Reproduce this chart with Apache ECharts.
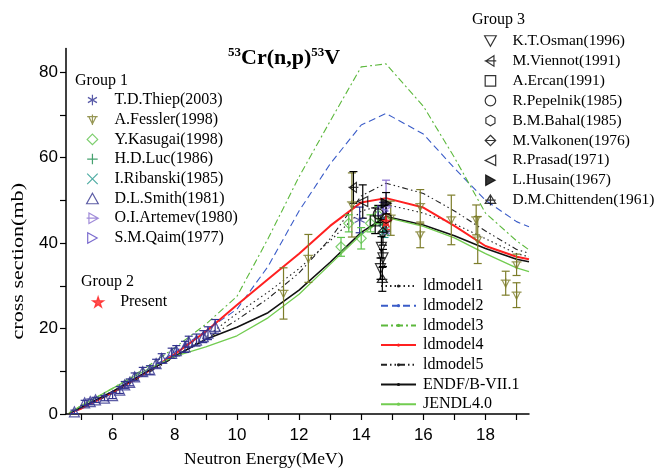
<!DOCTYPE html>
<html>
<head>
<meta charset="utf-8">
<script src="https://cdn.jsdelivr.net/npm/echarts@6/dist/echarts.min.js"></script>
<style>
html, body { margin: 0; padding: 0; background: #fff; }
#chart { width: 659px; height: 469px; }
</style>
</head>
<body>
<div id="chart"></div>
<script>
// model curves at these energies (MeV)
var energyGrid = [4.6, 5, 6, 7, 8, 9, 10, 11, 12, 13, 14, 14.8, 16, 17, 18, 19, 19.4]
var ldmodel1 = [0.2, 1.5, 5, 9.3, 13.5, 18, 23.5, 28.5, 34, 40.5, 47.5, 49, 47, 44.5, 41, 37.5, 36.8]
var ldmodel2 = [0.2, 1.5, 5, 9.5, 14.5, 19.5, 24.5, 34.5, 47.5, 58.5, 67.6, 70.3, 65.5, 57.5, 50, 45, 43.8]
var ldmodel3 = [0.2, 2, 6, 10.5, 15.5, 21, 27.5, 41, 55.5, 68.5, 81.2, 81.9, 72, 60, 47, 40.5, 38.4]
var ldmodel4 = [0.2, 1.3, 5, 9.3, 14, 19.3, 25.5, 31.5, 37.5, 44, 49.5, 50.5, 48.3, 44, 39.3, 36.8, 36.2]
var ldmodel5 = [0.2, 1.5, 4.8, 9, 13.3, 17.5, 22, 27, 33, 41, 51, 54, 51.6, 47.5, 42.8, 38.5, 37.6]
var endf = [0.2, 1.6, 5.3, 9.5, 13.5, 17.5, 20.3, 23.7, 29, 35.5, 42.5, 46.2, 44.2, 41.7, 38.7, 36.2, 35.6]
var jendl = [0.3, 2, 6, 10, 13.5, 15.7, 18.3, 22.5, 28, 35, 42, 46, 43.9, 41.2, 37.5, 34.2, 33.3]

// measurements: [energy, cross section, error]
var thiep = [[13.95, 45.4, 3]]
var fessler = [[11.5, 28.2, 6], [12.3, 36.4, 5.6], [13.7, 48.9, 7.5], [14.95, 45.8, 4], [15.9, 48.5, 4],
  [15.9, 41.9, 3], [16.9, 45.4, 5.8], [17.7, 45.4, 3.5], [17.75, 40.7, 5.5], [18.65, 30.6, 2.8],
  [19.0, 34.9, 2.5], [19.0, 27.8, 2.9]]
var kasugai = [[13.35, 39.1, 2.2], [13.6, 44.6, 2], [14.0, 41.1, 2.5], [14.3, 44.6, 2], [14.55, 46.5, 2]]
var luc = [[14.7, 44.2, 1.5]]
var ribanski = [[14.75, 42.8, 1.5]]
var smith = [[4.77, 0.5, 0.4], [5.1, 2.6, 0.6], [5.28, 2.9, 0.6], [5.45, 3.3, 0.6], [5.74, 3.7, 0.6],
  [6.0, 4.3, 0.7], [6.23, 5.6, 0.8], [6.39, 6.8, 0.8], [6.55, 7.4, 0.8], [6.71, 8.7, 0.9],
  [6.97, 9.9, 1], [7.2, 10.3, 1], [7.4, 11.8, 1], [7.58, 13, 1.1], [7.9, 14.2, 1.2],
  [8.05, 14.8, 1.2], [8.33, 15.7, 1.3], [8.45, 16.9, 1.3], [8.7, 17.3, 1.4], [8.92, 18.1, 1.4],
  [9.07, 18.9, 1.5], [9.3, 20.5, 1.6]]
var artemev = [[14.8, 48.5, 6.2]]
var qaim = [[14.7, 47.5, 2]]
var present = [[14.8, 45, 1.8]]
var osman = [[14.65, 39, 2.5], [14.7, 36.5, 2], [14.62, 34, 2.5]]
var viennot = [[13.75, 53, 3.7]]
var ercan = [[14.45, 45.2, 3]]
var pepelnik = [[14.55, 46.8, 2]]
var bahal = [[14.8, 45.8, 3]]
var valkonen = [[14.7, 42.5, 3]]
var prasad = [[14.05, 49.7, 3.9]]
var husain = [[14.8, 49.3, 2.5]]
var chittenden = [[14.68, 31.5, 2.8]]

var xTicks = [5, 6, 7, 8, 9, 10, 11, 12, 13, 14, 15, 16, 17, 18, 19]
var xLabels = [6, 8, 10, 12, 14, 16, 18]
var yTicks = [0, 10, 20, 30, 40, 50, 60, 70, 80]
var yLabels = [0, 20, 40, 60, 80]

var serif = 'Liberation Serif'
var sans = 'Liberation Sans'

var sym = {
  asterisk: 'path://M5,0L5,10M0.7,2.5L9.3,7.5M0.7,7.5L9.3,2.5',
  fessler: 'path://M1.5,2L8.5,2L5,9Z M0,2L10,2 M5,0L5,10',
  diamond: 'path://M5,0L10,5L5,10L0,5Z',
  plus: 'path://M5,0L5,10M0,5L10,5',
  cross: 'path://M0.5,0.5L9.5,9.5M0.5,9.5L9.5,0.5',
  triUp: 'path://M5,0.5L10,9.5L0,9.5Z',
  artemev: 'path://M2,0.5L10,5L2,9.5Z M0,5L10,5',
  triRight: 'path://M1,0L10,5L1,10Z',
  star: 'path://M5,0L6.2,3.6L10,3.6L6.9,5.8L8.1,9.5L5,7.3L1.9,9.5L3.1,5.8L0,3.6L3.8,3.6Z',
  triDown: 'path://M0,0.5L10,0.5L5,9.5Z',
  viennot: 'path://M8,0.5L1,5L8,9.5Z M0,5L10,5',
  square: 'path://M0,0L10,0L10,10L0,10Z',
  circle: 'path://M0,5A5,5 0 1,0 10,5A5,5 0 1,0 0,5Z',
  hexagon: 'path://M5,0L9.33,2.5L9.33,7.5L5,10L0.67,7.5L0.67,2.5Z',
  valkonen: 'path://M5,0L10,5L5,10L0,5Z M0,5L10,5',
  triLeft: 'path://M9,0.5L0,5L9,9.5Z',
  chittenden: 'path://M5,0L10,8L0,8Z M5,0L5,10 M0,5L10,5'
}

var group1 = [
  ['T.D.Thiep(2003)', thiep, sym.asterisk, '#2e3192', false],
  ['A.Fessler(1998)', fessler, sym.fessler, '#7d7d2a', false],
  ['Y.Kasugai(1998)', kasugai, sym.diamond, '#5cc24a', false],
  ['H.D.Luc(1986)', luc, sym.plus, '#17894a', false],
  ['I.Ribanski(1985)', ribanski, sym.cross, '#23978c', false],
  ['D.L.Smith(1981)', smith, sym.triUp, '#33338f', false],
  ['O.I.Artemev(1980)', artemev, sym.artemev, '#8a6fd0', false],
  ['S.M.Qaim(1977)', qaim, sym.triRight, '#5a46c2', false]
]
var group2 = [
  ['Present', present, sym.star, '#ff2424', true]
]
var group3 = [
  ['K.T.Osman(1996)', osman, sym.triDown, '#000', false],
  ['M.Viennot(1991)', viennot, sym.viennot, '#000', false],
  ['A.Ercan(1991)', ercan, sym.square, '#000', false],
  ['R.Pepelnik(1985)', pepelnik, sym.circle, '#000', false],
  ['B.M.Bahal(1985)', bahal, sym.hexagon, '#000', false],
  ['M.Valkonen(1976)', valkonen, sym.valkonen, '#000', false],
  ['R.Prasad(1971)', prasad, sym.triLeft, '#000', false],
  ['L.Husain(1967)', husain, sym.triRight, '#000', true],
  ['D.M.Chittenden(1961)', chittenden, sym.chittenden, '#000', false]
]

var models = [
  ['ldmodel1', ldmodel1, '#222', 1.1, [1.5, 3]],
  ['ldmodel2', ldmodel2, '#3a5cc8', 1.1, [7, 4]],
  ['ldmodel3', ldmodel3, '#5cb83c', 1.1, [7, 3, 2, 3]],
  ['ldmodel4', ldmodel4, '#ff2020', 2, 'solid'],
  ['ldmodel5', ldmodel5, '#222', 1.1, [6, 3, 1.5, 3, 1.5, 3]],
  ['ENDF/B-VII.1', endf, '#111', 1.6, 'solid'],
  ['JENDL4.0', jendl, '#72cc50', 1.3, 'solid']
]

function errRender(params, api) {
  var x = api.value(0)
  var y = api.value(1)
  var e = api.value(2)
  var top = api.coord([x, y + e])
  var bot = api.coord([x, y - e])
  var c = api.visual('color')
  var w = 4
  var st = { stroke: c, lineWidth: 1.2 }
  return {
    type: 'group',
    children: [
      { type: 'line', shape: { x1: top[0], y1: top[1], x2: bot[0], y2: bot[1] }, style: st },
      { type: 'line', shape: { x1: top[0] - w, y1: top[1], x2: top[0] + w, y2: top[1] }, style: st },
      { type: 'line', shape: { x1: bot[0] - w, y1: bot[1], x2: bot[0] + w, y2: bot[1] }, style: st }
    ]
  }
}

var series = []
models.forEach(function (m) {
  series.push({
    name: m[0],
    type: 'line',
    data: energyGrid.map(function (e, i) { return [e, m[1][i]] }),
    symbol: 'circle',
    symbolSize: 3,
    showSymbol: false,
    lineStyle: { color: m[2], width: m[3], type: m[4] },
    itemStyle: { color: m[2] },
    z: 2
  })
})
group1.concat(group2, group3).forEach(function (g) {
  series.push({
    name: g[0] + ' err',
    type: 'custom',
    data: g[1],
    encode: { x: 0, y: 1 },
    renderItem: errRender,
    itemStyle: { color: g[3] },
    silent: true,
    z: 3
  })
  series.push({
    name: g[0],
    type: 'scatter',
    data: g[1].map(function (d) { return [d[0], d[1]] }),
    symbol: g[2],
    symbolSize: 10,
    itemStyle: { color: g[4] ? g[3] : 'rgba(255,255,255,0)', borderColor: g[3], borderWidth: 1.2 },
    z: 4
  })
})

function names(list) { return list.map(function (g) { return g[0] }) }

var legendText = { fontFamily: serif, fontSize: 16, color: '#000' }

var option = {
  animation: false,
  backgroundColor: '#fff',
  title: {
    text: '{s|53}{m|Cr(n,p)}{s|53}{m|V}',
    left: 223,
    top: 41,
    textStyle: {
      rich: {
        s: { fontFamily: serif, fontSize: 13, fontWeight: 'bold', color: '#000', padding: [0, 0, 11, 0] },
        m: { fontFamily: serif, fontSize: 22, fontWeight: 'bold', color: '#000' }
      }
    }
  },
  grid: { left: 66, right: 130, top: 48.5, bottom: 55 },
  xAxis: {
    type: 'value',
    min: 4.5,
    max: 19.4,
    axisLine: { lineStyle: { color: '#000', width: 1.5 } },
    axisTick: { length: 6, lineStyle: { color: '#000', width: 1.2 }, customValues: xTicks },
    axisLabel: { customValues: xLabels, fontFamily: sans, fontSize: 17, color: '#000', margin: 13 },
    splitLine: { show: false }
  },
  yAxis: {
    type: 'value',
    min: 0,
    max: 85.5,
    axisLine: { show: true, lineStyle: { color: '#000', width: 1.5 } },
    axisTick: { show: true, length: 6, lineStyle: { color: '#000', width: 1.2 }, customValues: yTicks },
    axisLabel: { customValues: yLabels, fontFamily: sans, fontSize: 17, color: '#000', margin: 8 },
    splitLine: { show: false }
  },
  legend: [
    {
      data: names(group1), orient: 'vertical', left: 86, top: 92, padding: 0,
      itemWidth: 34, itemHeight: 10.5, itemGap: 3.7, selectedMode: false,
      itemStyle: { borderWidth: 1.2 }, textStyle: legendText
    },
    {
      data: names(group2), orient: 'vertical', left: 92, top: 294, padding: 0,
      itemWidth: 34, itemHeight: 10.5, selectedMode: false,
      itemStyle: { borderWidth: 1.2 }, textStyle: legendText
    },
    {
      data: names(group3), orient: 'vertical', left: 484, top: 33, padding: 0,
      itemWidth: 34, itemHeight: 10.5, itemGap: 3.9, selectedMode: false,
      itemStyle: { borderWidth: 1.2 }, textStyle: { fontFamily: serif, fontSize: 15.5, color: '#000' }
    },
    {
      data: names(models), orient: 'vertical', left: 380, top: 278, padding: 0,
      itemWidth: 35, itemHeight: 4, itemGap: 3.7, selectedMode: false,
      textStyle: { fontFamily: serif, fontSize: 16, color: '#000', padding: [0, 0, 0, 2] }
    }
  ],
  graphic: [
    { type: 'text', left: 75, top: 73, style: { text: 'Group 1', fontFamily: serif, fontSize: 16, fill: '#000' } },
    { type: 'text', left: 81, top: 274, style: { text: 'Group 2', fontFamily: serif, fontSize: 16, fill: '#000' } },
    { type: 'text', left: 472, top: 12, style: { text: 'Group 3', fontFamily: serif, fontSize: 16, fill: '#000' } },
    { type: 'text', left: 184, top: 450, style: { text: 'Neutron Energy(MeV)', fontFamily: serif, fontSize: 17.5, fill: '#000' } },
    { type: 'text', left: 10, top: 183, rotation: Math.PI / 2, scaleX: 1.3, style: { text: 'cross section(mb)', fontFamily: serif, fontSize: 17, fill: '#000' } }
  ],
  series: series
}

var myChart = echarts.init(document.getElementById('chart'))
myChart.setOption(option)
</script>
</body>
</html>
